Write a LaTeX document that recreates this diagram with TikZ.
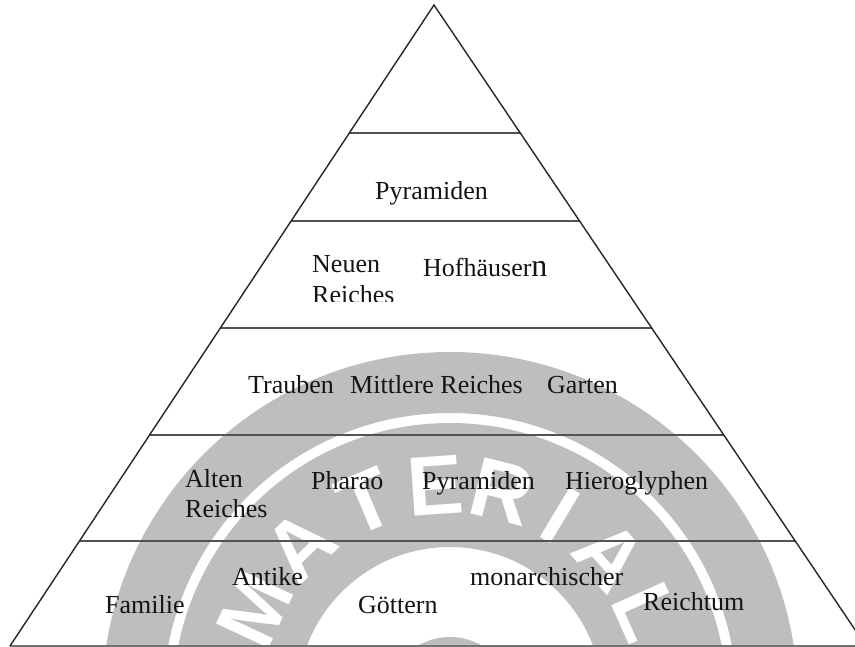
\documentclass[tikz,border=0pt]{standalone}
\usepackage{fontspec}
\setmainfont{Liberation Serif}
\newfontfamily\wmfont{Liberation Sans}
\usetikzlibrary{calc}
\definecolor{wmgray}{RGB}{190,190,190}
\definecolor{inkc}{RGB}{20,20,20}
\begin{document}
\begin{tikzpicture}[x=1pt,y=-1pt,
  lbl/.style={anchor=base west, inner sep=0pt, font=\fontsize{26}{30}\selectfont, text=inkc},
  wmletter/.style={font=\wmfont\bfseries\fontsize{84}{84}\selectfont, text=white, inner sep=0pt},
  sideline/.style={line width=1.4pt, draw=black!85, line join=miter},
  layerline/.style={line width=1.8pt, draw=black!68}]
\useasboundingbox (0,0) rectangle (855,647);
\clip (0,0) rectangle (855,647);
\fill[white] (0,0) rectangle (855,647);

% watermark
\coordinate (wc) at (450,700);
\fill[wmgray, even odd rule] (wc) circle (348pt) (wc) circle (287pt);
\fill[wmgray, even odd rule] (wc) circle (277pt) (wc) circle (153pt);
\fill[wmgray] (wc) circle (63pt);
\foreach \ch/\ang/\nm in {M/155/w1, A/134/w2, T/113/w3, E/94/w4, R/76/w5, I/59/w6, A/42/w7, L/24/w8}{
  \pgfmathsetmacro\rot{\ang-90}
  \node[wmletter, rotate=\rot] (\nm) at ({450+215*cos(\ang)},{700-215*sin(\ang)}) {\ch};
}

% pyramid
\coordinate (apex) at (434,5);
\coordinate (bl) at (10,646);
\coordinate (br) at (866,646);
\foreach \yy/\nm in {133/a, 221/b, 328/c, 435/d, 541/e}{
  \coordinate (\nm L) at ($(apex)!{(\yy-5)/641}!(bl)$);
  \coordinate (\nm R) at ($(apex)!{(\yy-5)/641}!(br)$);
  \draw[layerline] (\nm L) -- (\nm R);
}
\draw[layerline, draw=black!55] (bl) -- (br);
\draw[sideline] (bl) -- (apex) -- (br);

% row 2
\node[lbl] (t1) at (375,200) {Pyramiden};
% row 3
\node[lbl] (t2) at (312,273) {Neuen};
\begin{scope}
  \clip (300,280) rectangle (420,301.5);
  \node[lbl] (t3) at (312,304) {Reiches};
\end{scope}
\node[lbl] (t4) at (423,277) {Hofhäuser{\fontsize{32}{32}\selectfont n}};
% row 4
\node[lbl] (t5) at (248,393) {Trauben};
\node[lbl] (t6) at (350,393) {Mittlere Reiches};
\node[lbl] (t7) at (547,393) {Garten};
% row 5
\node[lbl] (t8) at (185,487) {Alten};
\node[lbl] (t9) at (185,517) {Reiches};
\node[lbl] (t10) at (311,489) {Pharao};
\node[lbl] (t11) at (422,489) {Pyramiden};
\node[lbl] (t12) at (565,489) {Hieroglyphen};
% row 6
\node[lbl] (t13) at (232,585) {Antike};
\node[lbl] (t14) at (105,613) {Familie};
\node[lbl] (t15) at (358,613) {Göttern};
\node[lbl] (t16) at (470,585) {monarchischer};
\node[lbl] (t17) at (643,610) {Reichtum};
\end{tikzpicture}
\end{document}
